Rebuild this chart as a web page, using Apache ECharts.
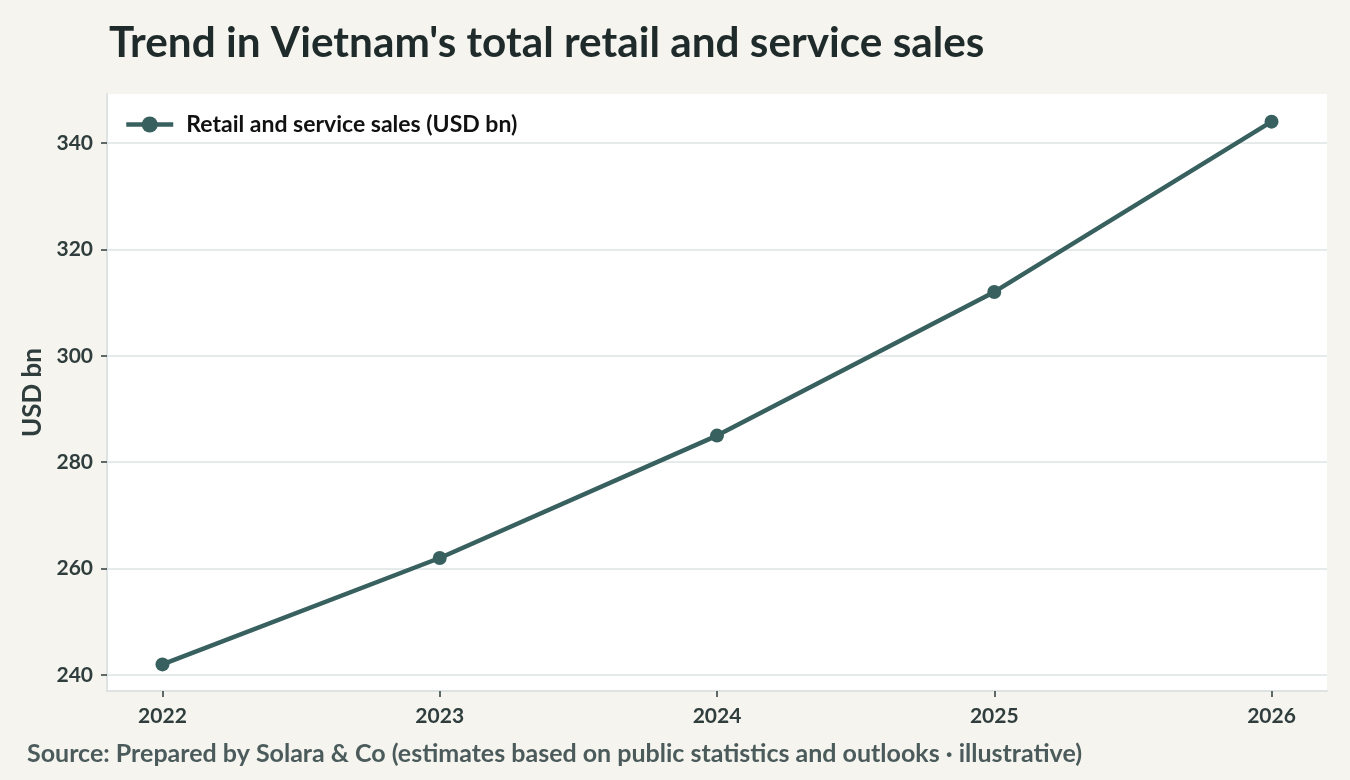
<!DOCTYPE html>
<html>
<head>
<meta charset="utf-8">
<script src="https://cdn.jsdelivr.net/npm/echarts@6/dist/echarts.min.js"></script>
<style>
  html, body { margin: 0; padding: 0; background: #f5f4ef; }
  #main { width: 1350px; height: 780px; }
</style>
</head>
<body>
<div id="main"></div>
<script>
var years = [2022, 2023, 2024, 2025, 2026];
var sales = [242, 262, 285, 312, 344];
var yTicks = [240, 260, 280, 300, 320, 340];

var FONT = 'Lato';
var ink = '#2f3d3d';
var lineColor = '#37605f';
var gridColor = '#dde3e3';

var myChart = echarts.init(document.getElementById('main'));

var points = years.map(function (y, i) { return [y, sales[i]]; });

var option = {
    backgroundColor: '#f5f4ef',
    textStyle: { fontFamily: FONT },
    title: {
        text: "Trend in Vietnam's total retail and service sales",
        left: 104,
        top: 17,
        textStyle: { fontFamily: FONT, fontSize: 42.3, fontWeight: 'bold', color: '#1f2b2b' }
    },
    graphic: [{
        type: 'text',
        left: 27,
        top: 741,
        style: {
            text: 'Source: Prepared by Solara & Co (estimates based on public statistics and outlooks · illustrative)',
            font: 'bold 25px ' + FONT,
            fill: '#4b5b5b'
        }
    }],
    legend: {
        left: 119,
        top: 108,
        itemWidth: 47,
        itemHeight: 20,
        textStyle: { fontFamily: FONT, fontSize: 23, fontWeight: 'bold', color: '#111', padding: [0, 0, 0, 8] },
        lineStyle: { width: 4.5, color: lineColor },
        data: ['Retail and service sales (USD bn)']
    },
    grid: {
        left: 107,
        right: 23,
        top: 94,
        bottom: 89,
        show: true,
        backgroundColor: '#ffffff',
        borderWidth: 0
    },
    xAxis: {
        type: 'value',
        min: 2021.8,
        max: 2026.2,
        axisLine: { show: true, lineStyle: { color: gridColor, width: 2 } },
        axisTick: { show: true, length: 6, customValues: years, lineStyle: { color: ink, width: 1.5 } },
        axisLabel: {
            customValues: years,
            margin: 15,
            fontFamily: FONT,
            fontSize: 21,
            fontWeight: 'bold',
            color: ink,
            formatter: function (v) { return String(v); }
        },
        splitLine: { show: false }
    },
    yAxis: {
        type: 'value',
        min: 237,
        max: 349.2,
        name: 'USD bn',
        nameLocation: 'middle',
        nameGap: 56,
        nameTextStyle: { fontFamily: FONT, fontSize: 26, fontWeight: 'bold', color: ink },
        axisLine: { show: true, lineStyle: { color: gridColor, width: 2 } },
        axisTick: { show: true, length: 6, customValues: yTicks, lineStyle: { color: ink, width: 1.5 } },
        axisLabel: {
            customValues: yTicks,
            margin: 14,
            fontFamily: FONT,
            fontSize: 21,
            fontWeight: 'bold',
            color: ink
        },
        splitLine: { show: true, lineStyle: { color: gridColor, width: 1.5 } }
    },
    series: [{
        name: 'Retail and service sales (USD bn)',
        type: 'line',
        data: points,
        symbol: 'circle',
        symbolSize: 14,
        lineStyle: { color: lineColor, width: 4.5 },
        itemStyle: { color: lineColor },
        z: 5
    }]
};

myChart.setOption(option);
</script>
</body>
</html>
